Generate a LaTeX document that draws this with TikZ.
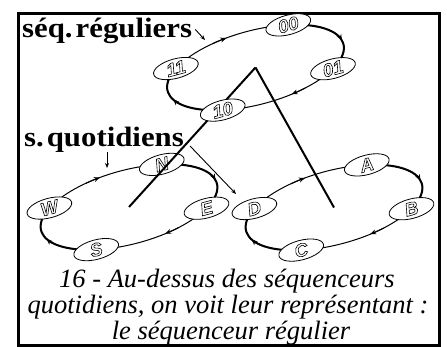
\documentclass[tikz,border=0pt]{standalone}
\usepackage{fontspec}
\setmainfont{Liberation Serif}
\newfontfamily\seqlabelfont{Liberation Sans}
\newfontfamily\titlefont[FakeStretch=1.1]{Liberation Serif}
\usetikzlibrary{shapes.geometric,arrows.meta,calc}
\newcommand\outl[1]{\special{pdf:literal direct 1 Tr 0.6 w}#1\special{pdf:literal direct 0 Tr}}
\tikzset{
  seqnode/.style={ellipse, draw, line width=0.8pt, fill=white, minimum width=46pt, minimum height=19.5pt, inner sep=0pt, transform shape, font=\seqlabelfont\bfseries\itshape\fontsize{18.5}{18.5}\selectfont},
  ringthin/.style={line width=1pt},
  ringthick/.style={line width=2pt},
  ringtip/.style={-{Stealth[length=6pt,width=5pt]}, line width=1pt},
  legline/.style={line width=2pt},
  lblarrow/.style={-{Stealth[length=5pt,width=4pt]}, line width=0.9pt},
  bigtitle/.style={font=\titlefont\bfseries\fontsize{28}{28}\selectfont, inner sep=0pt, anchor=base west},
  captext/.style={font=\itshape\fontsize{26.5}{29}\selectfont, inner sep=0pt, anchor=base},
}
\newcommand\ringarcs[3]{%
  \begin{scope}[shift={(#2,-#3)}, rotate=15]
    \coordinate (#1) at (0,0);
    \draw[ringthin] (0,0) ellipse[x radius=91pt, y radius=37pt];
    \draw[ringthick] (62:91pt and 37pt) arc[start angle=62, end angle=-35, x radius=91pt, y radius=37pt];
    \draw[ringthick] (242:91pt and 37pt) arc[start angle=242, end angle=148, x radius=91pt, y radius=37pt];
    \foreach \s in {103,6,-72,195}{
      \pgfmathsetmacro\sa{\s+10}
      \draw[ringtip] (\sa:91pt and 37pt) arc[start angle=\sa, end angle=\s, x radius=91pt, y radius=37pt];
    }
  \end{scope}}
\newcommand\ringnodes[7]{%
  \begin{scope}[shift={(#2,-#3)}, rotate=15]
    \node[seqnode] (#1t) at (62:91pt and 37pt) {\outl{#4}};
    \node[seqnode] (#1r) at (-35:91pt and 37pt) {\outl{#5}};
    \node[seqnode] (#1b) at (242:91pt and 37pt) {\outl{#6}};
    \node[seqnode] (#1l) at (148:91pt and 37pt) {\outl{#7}};
  \end{scope}}
\begin{document}
\begin{tikzpicture}[x=1pt,y=1pt]
\useasboundingbox (0,0) rectangle (447,-347);
\fill[white] (0,0) rectangle (447,-347);
\draw[line width=3pt] (18,-13.5) rectangle (439.5,-345);
% lower rings
\ringarcs{cl}{129}{207}
\ringarcs{cr}{334}{207.5}
\ringnodes{l}{129}{207}{N}{E}{S}{W}
\ringnodes{r}{334}{207.5}{A}{B}{C}{D}
% upper ring
\ringarcs{cu}{255.5}{67.5}
\draw[legline] (cu) -- (cl);
\draw[legline] (cu) -- (cr);
\ringnodes{u}{255.5}{67.5}{00}{01}{10}{11}
% labels
\node[bigtitle] (lreg) at (22,-38) {séq.\hspace{3pt}réguliers};
\coordinate (regtip) at (205,-40);
\draw[lblarrow] ($(lreg.east)+(3,2)$) -- (regtip);
\node[bigtitle] (lquo) at (24,-147) {s.\hspace{3pt}quotidiens};
\coordinate (quodown) at (107,-168);
\draw[lblarrow] ($(quodown |- lquo.base)+(0,-5)$) -- (quodown);
\coordinate (quoD) at (236,-194);
\draw[lblarrow] ($(lquo.base east)+(6,1)$) -- (quoD);
% caption
\node[captext] (cap1) at (227,-288) {16 - Au-dessus des séquenceurs};
\node[captext] (cap2) at (228,-313.5) {quotidiens, on voit leur représentant :};
\node[captext] (cap3) at (231,-339) {le séquenceur régulier};
\end{tikzpicture}
\end{document}
